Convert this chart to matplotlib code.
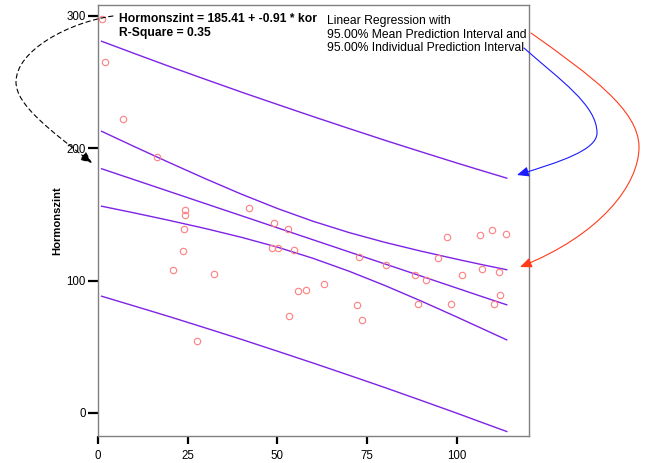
import matplotlib
matplotlib.use("Agg")
import matplotlib.pyplot as plt
from matplotlib.path import Path
from matplotlib.patches import FancyArrowPatch

plt.rcParams['font.family'] = ['Liberation Sans', 'DejaVu Sans']

# ---- data ----
kor = [1.2, 2.0, 6.9, 16.5, 24.3, 24.3, 23.9, 23.7, 21.0, 32.4, 27.5, 42.2,
       49.0, 53.1, 48.6, 50.1, 54.8, 55.8, 58.1, 63.0, 53.2, 72.2, 72.8, 73.6,
       80.4, 88.5, 91.4, 89.3, 94.9, 97.3, 98.5, 101.5, 106.6, 107.1, 109.9,
       110.5, 111.8, 112.0, 113.9]
hormonszint = [297.6, 265.3, 222.3, 193.6, 153.3, 149.8, 139.2, 122.6, 108.2,
               105.2, 54.6, 155.1, 143.7, 139.2, 124.6, 124.6, 123.3, 92.4,
               93.1, 97.7, 73.5, 81.8, 117.8, 70.5, 112.0, 104.2, 100.7, 82.6,
               117.3, 133.2, 82.6, 104.5, 134.7, 109.0, 138.4, 82.6, 106.5,
               89.4, 135.4]

x_band = [1, 10, 20, 30, 40, 50, 60, 70, 80, 90, 100, 107, 114]
fit = [184.5, 176.3, 167.2, 158.1, 149.0, 139.9, 130.8, 121.7, 112.6, 103.5,
       94.4, 88.0, 81.7]
ci_upper = [212.8, 201.4, 189.0, 176.9, 165.3, 154.5, 144.8, 136.3, 128.9,
            122.3, 116.2, 112.1, 108.2]
ci_lower = [156.2, 151.2, 145.4, 139.3, 132.7, 125.3, 116.8, 107.1, 96.3,
            84.7, 72.6, 63.9, 55.2]
pi_upper = [280.8, 271.7, 261.7, 252.0, 242.4, 233.1, 223.9, 214.9, 206.0,
            197.4, 188.9, 183.1, 177.4]
pi_lower = [88.2, 80.9, 72.7, 64.2, 55.6, 46.7, 37.7, 28.5, 19.2, 9.6, -0.1,
            -7.1, -14.0]

x_ticks = [0, 25, 50, 75, 100]
y_ticks = [0, 100, 200, 300]

eq_text = "Hormonszint = 185.41 + -0.91 * kor"
r2_text = "R-Square = 0.35"
legend_lines = ["Linear Regression with",
                "95.00% Mean Prediction Interval and",
                "95.00% Individual Prediction Interval"]

# ---- figure ----
W, H = 646, 463
fig = plt.figure(figsize=(W / 100, H / 100), dpi=100)
ax = fig.add_axes([98 / W, 1 - 436 / H, (529 - 98) / W, (436 - 5) / H])


def fx(px):
    return px / W


def fy(py):
    return 1 - py / H


line_color = '#7f22e6'
for series in (fit, ci_upper, ci_lower, pi_upper, pi_lower):
    ax.plot(x_band, series, color=line_color, lw=1.0, zorder=2)

ax.plot(kor, hormonszint, linestyle='none', marker='o', markersize=4.6,
        markerfacecolor='none', markeredgecolor='#ff7f7f',
        markeredgewidth=0.8, zorder=3)

ax.set_xlim(0, 120.2)
ax.set_ylim(-17.4, 308.2)
ax.set_xticks(x_ticks)
ax.set_yticks(y_ticks)
ax.tick_params(axis='y', direction='out', length=7.2, width=1.6,
               color='black', labelsize=8.3, pad=1.5)
ax.tick_params(axis='x', direction='out', length=5.8, width=1.6,
               color='black', labelsize=8.3, pad=4)
for sp in ax.spines.values():
    sp.set_color('#808080')
    sp.set_linewidth(1.0)

fig.text(fx(57), fy(221), "Hormonszint", rotation=90, fontsize=8.1,
         fontweight='bold', ha='center', va='center')

fig.text(fx(119), fy(19), eq_text, fontsize=8.7, fontweight='bold',
         ha='left', va='center')
fig.text(fx(119), fy(33), r2_text, fontsize=8.7, fontweight='bold',
         ha='left', va='center')
for i, t in enumerate(legend_lines):
    fig.text(fx(327), fy(21 + 13.6 * i), t, fontsize=8.7, ha='left',
             va='center')


def bez_arrow(pts, color, ls='-'):
    verts = [(fx(px), fy(py)) for px, py in pts]
    codes = [Path.MOVETO] + [Path.CURVE4] * (len(verts) - 1)
    arr = FancyArrowPatch(path=Path(verts, codes),
                          arrowstyle='-|>,head_length=0.7,head_width=0.3',
                          mutation_scale=10, color=color, lw=0.8,
                          linestyle=ls, transform=fig.transFigure)
    fig.add_artist(arr)


# dashed black arrow from the top point down to the axis
bez_arrow([(113, 16), (70, 22), (16, 50), (16, 82),
           (16, 105), (50, 130), (92, 163)], 'black', ls=(0, (4, 3)))
# blue arrow to the individual prediction interval
bez_arrow([(524, 48), (560, 80), (597, 105), (597, 133),
           (597, 150), (560, 162), (517, 175)], '#1a1aff')
# red arrow to the mean prediction interval
bez_arrow([(531, 33), (590, 75), (639, 110), (639, 147),
           (639, 185), (600, 235), (520, 267)], '#ff3b1a')

fig.savefig("out.png", dpi=100)
